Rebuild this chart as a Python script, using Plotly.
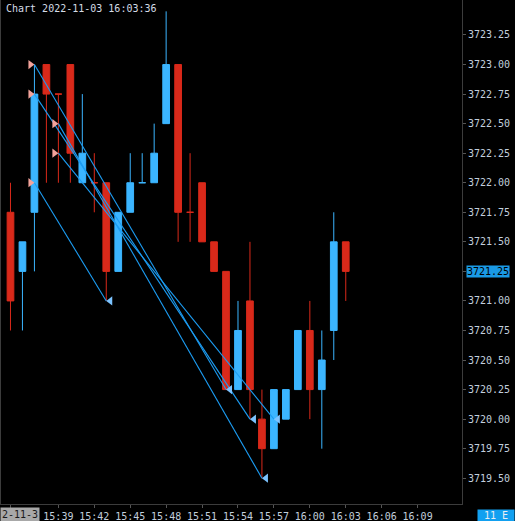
import pandas as pd
import plotly.graph_objects as go

DAY = "2022-11-03"

bar_times = [
    "15:35", "15:36", "15:37", "15:38", "15:39", "15:40", "15:41", "15:42",
    "15:43", "15:44", "15:45", "15:46", "15:47", "15:48", "15:49", "15:50",
    "15:51", "15:52", "15:53", "15:54", "15:55", "15:56", "15:57", "15:58",
    "15:59", "16:00", "16:01", "16:02", "16:03",
]
opens = [
    3721.75, 3721.25, 3721.75, 3723.00, 3722.75, 3723.00, 3722.00, 3722.00,
    3722.00, 3721.25, 3721.75, 3722.00, 3722.00, 3722.50, 3723.00, 3721.75,
    3722.00, 3721.50, 3721.25, 3720.25, 3721.00, 3720.00, 3719.75, 3720.00,
    3720.25, 3720.75, 3720.25, 3720.75, 3721.50,
]
highs = [
    3722.00, 3721.50, 3723.00, 3723.00, 3722.75, 3723.00, 3722.75, 3722.25,
    3722.00, 3721.75, 3722.25, 3722.25, 3722.50, 3723.45, 3723.00, 3722.25,
    3722.00, 3721.50, 3721.25, 3721.00, 3721.50, 3720.25, 3720.25, 3720.25,
    3720.75, 3721.00, 3720.75, 3721.75, 3721.50,
]
lows = [
    3720.75, 3720.75, 3721.25, 3722.00, 3722.00, 3722.00, 3722.00, 3721.75,
    3721.00, 3721.25, 3721.75, 3722.00, 3722.00, 3722.50, 3721.50, 3721.50,
    3721.50, 3721.25, 3720.25, 3720.25, 3720.00, 3719.50, 3719.75, 3720.00,
    3720.25, 3720.00, 3719.75, 3720.50, 3721.00,
]
closes = [
    3721.00, 3721.50, 3722.75, 3722.75, 3722.75, 3722.25, 3722.25, 3722.00,
    3721.25, 3721.75, 3722.00, 3722.00, 3722.25, 3723.00, 3721.75, 3721.75,
    3721.50, 3721.25, 3720.25, 3720.75, 3720.25, 3719.75, 3720.25, 3720.25,
    3720.75, 3720.25, 3720.50, 3721.50, 3721.25,
]
# u = up (blue), d = down (red); dojis take the colour the platform gave them
bar_dir = list("duudddudduuuuudddddudduuuduud")

entry_times = ["15:37", "15:37", "15:39", "15:39", "15:37"]
entry_prices = [3723.00, 3722.75, 3722.50, 3722.25, 3722.00]
exit_times = ["15:53", "15:55", "15:56", "15:57", "15:43"]
exit_prices = [3720.25, 3720.00, 3719.50, 3720.00, 3721.00]

price_ticks = [
    3719.50, 3719.75, 3720.00, 3720.25, 3720.50, 3720.75, 3721.00,
    3721.25, 3721.50, 3721.75, 3722.00, 3722.25, 3722.50, 3722.75,
    3723.00, 3723.25,
]
time_ticks = ["15:35", "15:39", "15:42", "15:45", "15:48", "15:51", "15:54",
              "15:57", "16:00", "16:03", "16:06", "16:09"]
last_price = 3721.25

UP = "#3bb5ff"
DOWN = "#d9291a"
TEXT = "#c2cfdd"
MONO = "DejaVu Sans Mono"


def ts(hhmm):
    return pd.Timestamp(f"{DAY} {hhmm}")


bars = pd.DataFrame({
    "time": [ts(t) for t in bar_times],
    "open": opens, "high": highs, "low": lows, "close": closes,
    "dir": bar_dir,
})

fig = go.Figure()

for d, color in [("u", UP), ("d", DOWN)]:
    sub = bars[bars["dir"] == d]
    fig.add_trace(
        go.Candlestick(
            x=sub["time"],
            open=sub["open"],
            high=sub["high"],
            low=sub["low"],
            close=sub["close"],
            increasing={"line": {"color": color, "width": 1}, "fillcolor": color},
            decreasing={"line": {"color": color, "width": 1}, "fillcolor": color},
            whiskerwidth=0,
            showlegend=False,
            hoverinfo="skip",
        )
    )

for t0, p0, t1, p1 in zip(entry_times, entry_prices, exit_times, exit_prices):
    fig.add_trace(
        go.Scatter(
            x=[ts(t0), ts(t1)],
            y=[p0, p1],
            mode="lines",
            line={"color": "#1c9cf2", "width": 1.1},
            showlegend=False,
            hoverinfo="skip",
        )
    )

# triangle tips sit on the bar centre, so shift the marker centre a little
tip = pd.Timedelta(seconds=20)
fig.add_trace(
    go.Scatter(
        x=[ts(t) - tip for t in entry_times],
        y=entry_prices,
        mode="markers",
        marker={"symbol": "triangle-right", "size": 8, "color": "#f4a39b"},
        showlegend=False,
        hoverinfo="skip",
    )
)
fig.add_trace(
    go.Scatter(
        x=[ts(t) + tip for t in exit_times],
        y=exit_prices,
        mode="markers",
        marker={"symbol": "triangle-left", "size": 8, "color": "#7cc3ff"},
        showlegend=False,
        hoverinfo="skip",
    )
)

minute = pd.Timedelta(minutes=1)
x_start = ts(bar_times[0]) - minute * (9.5 / 12)
x_end = ts(bar_times[0]) + minute * (452.5 / 12)

fig.update_layout(
    width=515,
    height=521,
    autosize=False,
    margin={"l": 1, "r": 53, "t": 0, "b": 17},
    paper_bgcolor="#000000",
    plot_bgcolor="#000000",
    boxgap=0.3,
    boxgroupgap=0.2,
    font={"family": MONO, "size": 10, "color": TEXT},
    xaxis={
        "range": [x_start, x_end],
        "rangeslider": {"visible": False},
        "tickvals": [ts(t) for t in time_ticks],
        "ticktext": [""] + time_ticks[1:],
        "ticks": "outside",
        "ticklen": 3,
        "tickcolor": "#555555",
        "showline": True,
        "linecolor": "#3c3c3c",
        "showgrid": False,
        "zeroline": False,
        "tickfont": {"family": MONO, "size": 10, "color": TEXT},
    },
    yaxis={
        "side": "right",
        "range": [3719.282, 3723.546],
        "tickvals": price_ticks,
        "ticktext": [f"{p:.2f}" for p in price_ticks],
        "ticks": "outside",
        "ticklen": 3,
        "tickcolor": "#555555",
        "showline": True,
        "linecolor": "#3c3c3c",
        "mirror": True,
        "showgrid": False,
        "zeroline": False,
        "tickfont": {"family": MONO, "size": 10, "color": TEXT},
    },
)

fig.add_annotation(
    text="Chart 2022-11-03 16:03:36",
    xref="paper", yref="paper", x=0, y=1,
    xanchor="left", yanchor="top", xshift=3, yshift=-1,
    showarrow=False,
    font={"family": MONO, "size": 10, "color": "#d4dce6"},
)
fig.add_annotation(
    text=f"{last_price:.2f}",
    xref="paper", yref="y", x=1, y=last_price,
    xanchor="left", yanchor="middle", xshift=4,
    showarrow=False, bgcolor="#1a9ae6", borderpad=0,
    font={"family": MONO, "size": 10, "color": "#000000"},
)
fig.add_annotation(
    text=" 11 E ",
    xref="paper", yref="paper", x=1, y=0,
    xanchor="left", yanchor="top", xshift=15, yshift=-5,
    showarrow=False, bgcolor="#12a0f0", borderpad=0,
    font={"family": MONO, "size": 10, "color": "#e8eef4"},
)
fig.add_annotation(
    text="2-11-3",
    xref="paper", yref="paper", x=0, y=0,
    xanchor="left", yanchor="top", xshift=-1, yshift=-3,
    showarrow=False, bgcolor="#a8a8a8", borderpad=1,
    font={"family": MONO, "size": 10, "color": "#1a1a1a"},
)

# the page body has a default 8px margin; drop it so the chart fills the window
fig.write_html(
    "out.html",
    config={"displayModeBar": False},
    post_script="document.body.style.margin='0px';document.body.style.background='#000';",
)
